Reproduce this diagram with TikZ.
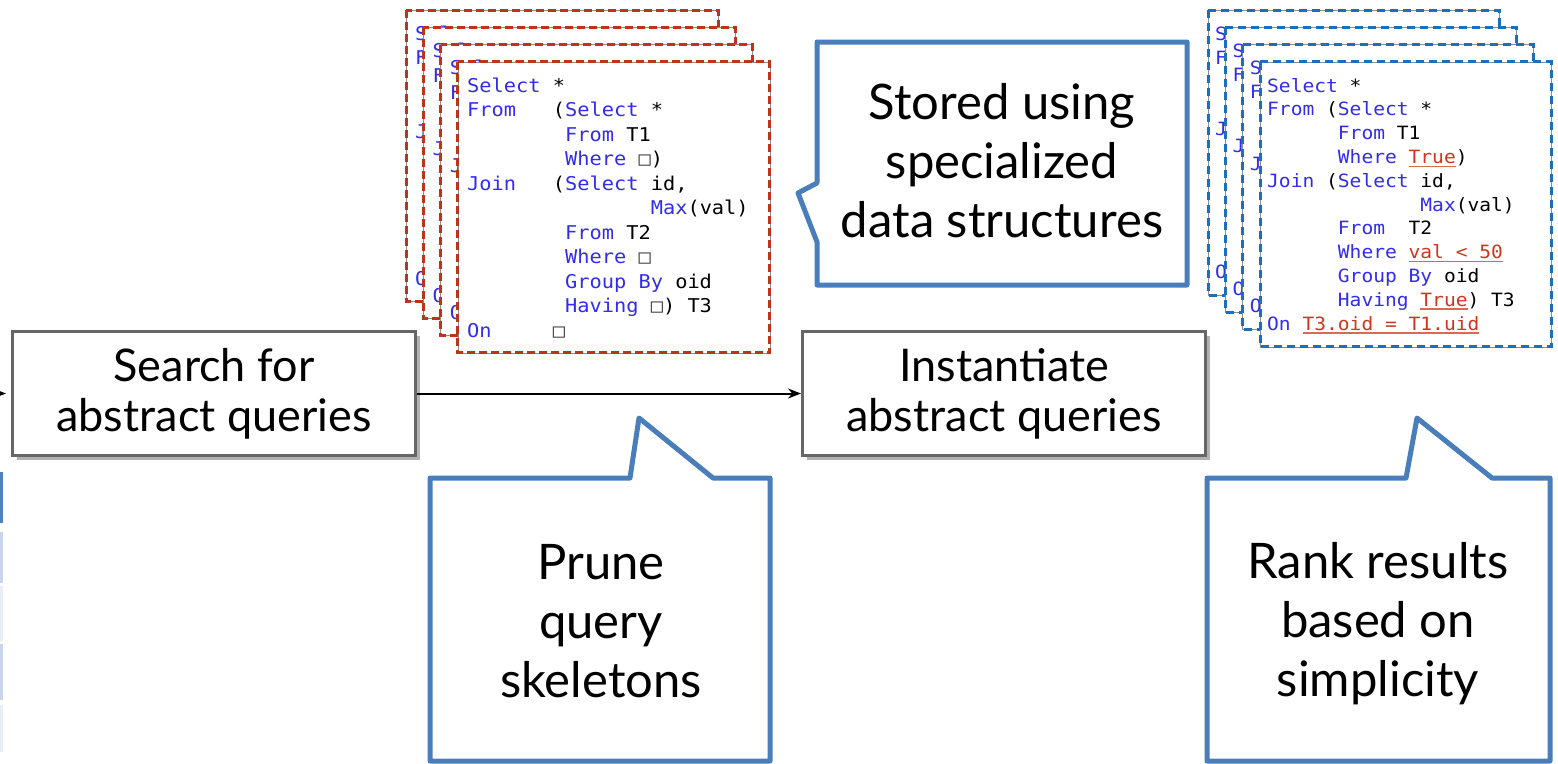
\documentclass[tikz,border=0pt]{standalone}
\usepackage{fontspec}
\setmainfont{Lato}
\newfontfamily\codefont{DejaVu Sans Mono}[FakeStretch=1.07]
\usetikzlibrary{arrows.meta,shadows}
\definecolor{calloutblue}{RGB}{74,126,187}
\definecolor{boxgray}{RGB}{102,102,102}
\definecolor{kwblue}{RGB}{50,45,235}
\definecolor{codered}{RGB}{205,55,30}
\definecolor{dashred}{RGB}{192,50,25}
\definecolor{dashblue}{RGB}{30,110,190}
\definecolor{cellA}{RGB}{79,129,189}
\definecolor{cellB}{RGB}{201,213,234}
\definecolor{cellC}{RGB}{233,238,246}
\newcommand\kw[1]{\textcolor{kwblue}{#1}}
\newcommand\rd[1]{{\setbox0\hbox{\textcolor{codered}{#1}}\rlap{\textcolor{codered!75}{\rule[-3.5pt]{\wd0}{1.4pt}}}\box0}}
\newcommand\ind[1]{\hbox to #1\fontcharwd\font`M{}}
\newcommand\hole{\textcolor{black!75}{□}}
\newcommand\boxfont{\fontsize{45}{50}\selectfont}
\newcommand\calloutfont{\fontsize{49}{59}\selectfont}
\newcommand\redcode{%
\kw{Select} *\\
\kw{From}\ind3(\kw{Select} *\\
\ind8\kw{From} T1\\
\ind8\kw{Where} \hole)\\
\kw{Join}\ind3(\kw{Select} id,\\
\ind{15}\kw{Max}(val)\\
\ind8\kw{From} T2\\
\ind8\kw{Where} \hole\\
\ind8\kw{Group By} oid\\
\ind8\kw{Having} \hole) T3\\
\kw{On}\ind5\hole}
\newcommand\bluecode{%
\kw{Select} *\\
\kw{From} (\kw{Select} *\\
\ind6\kw{From} T1\\
\ind6\kw{Where} \rd{True})\\
\kw{Join} (\kw{Select} id,\\
\ind{13}\kw{Max}(val)\\
\ind6\kw{From}\ind2T2\\
\ind6\kw{Where} \rd{val < 50}\\
\ind6\kw{Group By} oid\\
\ind6\kw{Having} \rd{True}) T3\\
\kw{On} \rd{T3.oid = T1.uid}}
\tikzset{
  stepbox/.style={draw=boxgray, line width=3pt, fill=white, minimum width=403pt,
    minimum height=124pt, inner sep=0pt, align=center, font=\boxfont,
    drop shadow={shadow xshift=4pt, shadow yshift=-4pt, opacity=0.3, fill=black}},
  callout/.style={draw=calloutblue, line width=5pt, fill=white, line join=round},
  callouttext/.style={align=center, font=\calloutfont, inner sep=0pt},
  flow/.style={-{Stealth[length=13pt,width=10pt]}, line width=2pt},
  pageback/.style={draw=black!45, line width=0.8pt, fill=white},
  redpage/.style={draw=dashred, line width=3pt, dash pattern=on 8pt off 4pt},
  bluepage/.style={draw=dashblue, line width=3pt, dash pattern=on 8pt off 5pt},
  redcodetext/.style={anchor=north west, inner sep=0pt, align=left,
    font=\codefont\fontsize{19}{24.5}\selectfont},
  bluecodetext/.style={anchor=north west, inner sep=0pt, align=left,
    font=\codefont\fontsize{18.3}{23.8}\selectfont}
}
\begin{document}
\begin{tikzpicture}[x=1pt,y=-1pt]
\useasboundingbox (0,0) rectangle (1558,763);
% left-edge table cells
\fill[cellA] (0,472) rectangle (3,523);
\fill[cellB] (0,532) rectangle (3,583);
\fill[cellC] (0,586) rectangle (3,641);
\fill[cellB] (0,644) rectangle (3,700);
\fill[cellC] (0,705) rectangle (3,752);
% red stack of abstract queries
\foreach \i in {0,1,2,3}{
  \pgfmathsetmacro\px{406+17.33*\i}
  \pgfmathsetmacro\py{10+17.33*\i}
  \path[pageback] (\px,\py) rectangle ++(312,291);
  \path[redpage] (\px,\py) rectangle ++(312,291);
  \node[redcodetext] (rc\i) at (\px+9,\py+15.5) {\redcode};
}
% blue stack of instantiated queries
\foreach \i in {0,1,2,3}{
  \pgfmathsetmacro\px{1208+17.33*\i}
  \pgfmathsetmacro\py{10+17.33*\i}
  \path[pageback] (\px,\py) rectangle ++(291,285);
  \path[bluepage] (\px,\py) rectangle ++(291,285);
  \node[bluecodetext] (bc\i) at (\px+7,\py+16) {\bluecode};
}
% process boxes
\node[stepbox] (search) at (214,393.5) {Search for\\abstract queries};
\node[stepbox] (inst) at (1004,393.5) {Instantiate\\abstract queries};
\coordinate (lin) at (-40,393.5);
\draw[flow, shorten >=5pt] (lin) -- (search.west);
\draw[flow] (search.east) -- (inst.west);
% callouts
\draw[callout] (817,42) -- (1187,42) -- (1187,285) -- (817,285) -- (817,242) -- (798,193) -- (817,183) -- cycle;
\node[callouttext] (stored) at (1002,161) {Stored using\\specialized\\data structures};
\draw[callout] (430,478) -- (630,478) -- (639,418) -- (713,478) -- (770,478) -- (770,761) -- (430,761) -- cycle;
\node[callouttext] (prune) at (601,621) {Prune\\query\\skeletons};
\draw[callout] (1207,478) -- (1406,478) -- (1417,418) -- (1492,478) -- (1550,478) -- (1550,761) -- (1207,761) -- cycle;
\node[callouttext] (rank) at (1378,624) {Rank results\\based on\\simplicity};
\end{tikzpicture}
\end{document}
